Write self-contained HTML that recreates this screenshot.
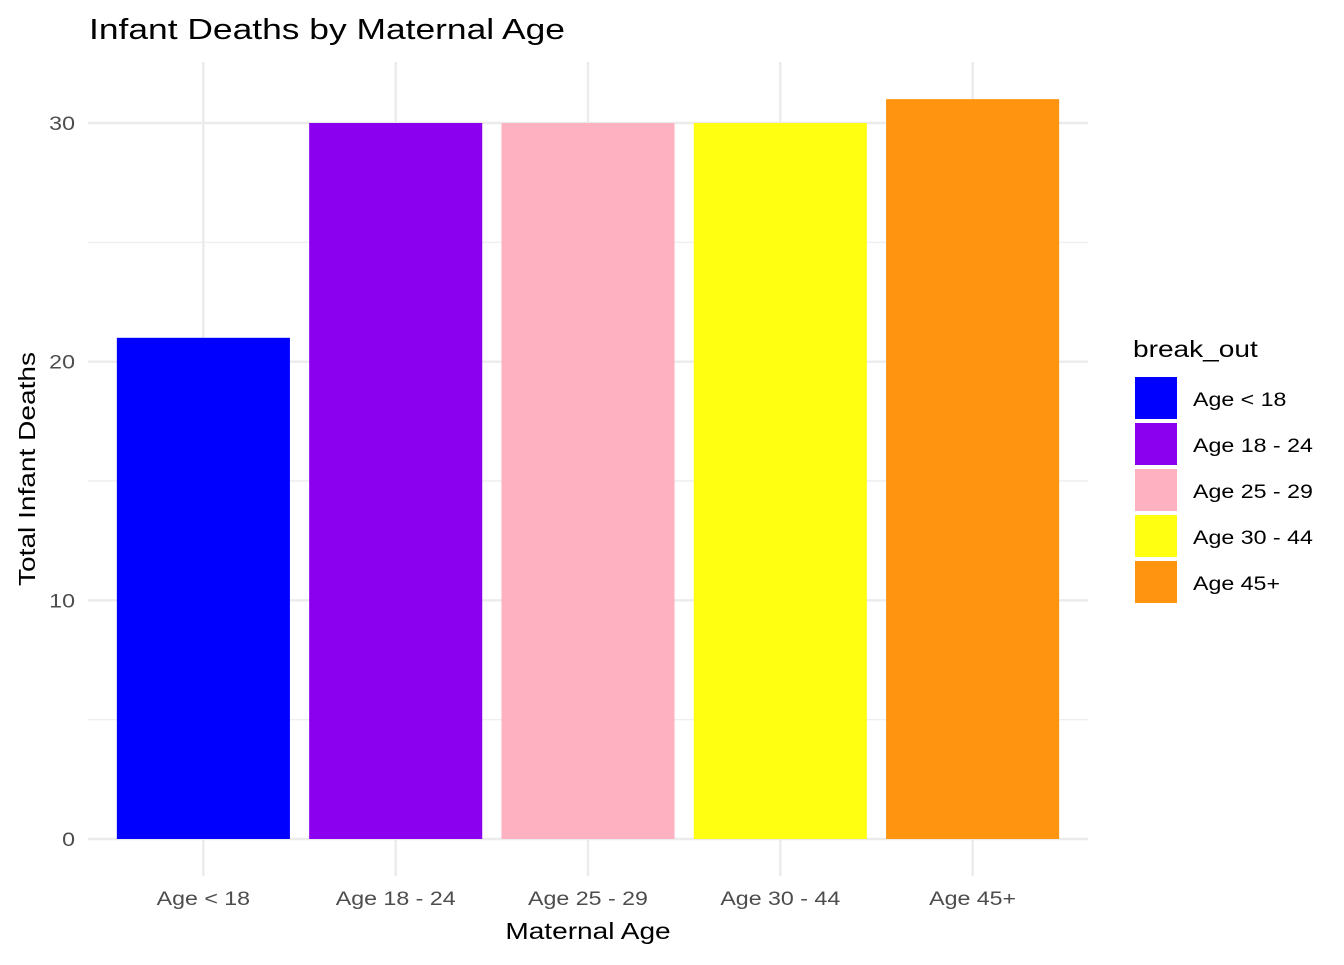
<!DOCTYPE html>
<html><head><meta charset="utf-8"><style>
body{margin:0;background:#fff;font-family:"Liberation Sans",Arial,sans-serif}
svg text{font-family:"Liberation Sans",Arial,sans-serif}
</style></head><body>
<svg id="chart" width="1344" height="960" xmlns="http://www.w3.org/2000/svg">
<text x="89" y="39" font-size="29" fill="#000">Infant Deaths by Maternal Age</text>
<g id="grid"></g><g id="bars"></g><g id="axes"></g><g id="legend"></g>
<text x="588" y="939" font-size="23" text-anchor="middle" fill="#000">Maternal Age</text>
<text transform="translate(35,469) rotate(-90)" font-size="23" text-anchor="middle" fill="#000">Total Infant Deaths</text>
</svg>
<script>
const categories=["Age < 18","Age 18 - 24","Age 25 - 29","Age 30 - 44","Age 45+"];
const values=[21,30,30,30,31];
const colors=["#0000FF","#8B00EE","#FDB1C1","#FFFF11","#FF9410"];
const yTicks=[0,10,20,30];
const yMinor=[5,15,25];
const NS="http://www.w3.org/2000/svg";
const px0=88,px1=1088,py0=876,py1=62;
function xs(i){return px0+(i+1-0.4)*(px1-px0)/5.2;}
const bw=0.9*(px1-px0)/5.2;
function ys(v){return 839-v*(839-123)/30;}
function mk(tag,attrs,parent){const e=document.createElementNS(NS,tag);for(const k in attrs)e.setAttribute(k,attrs[k]);document.getElementById(parent).appendChild(e);return e;}
yMinor.forEach(v=>{const l=mk("line",{x1:px0,x2:px1,y1:ys(v),y2:ys(v),stroke:"#ebebeb","stroke-width":1.2},"grid");

});
yTicks.forEach(v=>{const l=mk("line",{x1:px0,x2:px1,y1:ys(v),y2:ys(v),stroke:"#ebebeb","stroke-width":2.4},"grid");


const t=mk("text",{x:75,y:ys(v)+7,"font-size":19,"text-anchor":"end",fill:"#4d4d4d"},"axes");t.textContent=v;

});
categories.forEach((c,i)=>{const l=mk("line",{x1:xs(i),x2:xs(i),y1:py1,y2:py0,stroke:"#ebebeb","stroke-width":2.4},"grid");


const r=mk("rect",{x:xs(i)-bw/2,y:ys(values[i]),width:bw,height:ys(0)-ys(values[i]),fill:colors[i]},"bars");


const t=mk("text",{x:xs(i),y:905,"font-size":19,"text-anchor":"middle",fill:"#4d4d4d"},"axes");t.textContent=c;


const k=mk("rect",{x:1135,y:377+i*46,width:42,height:42,fill:colors[i]},"legend");


const lt=mk("text",{x:1193,y:406+i*46,"font-size":19,fill:"#000"},"legend");lt.textContent=c;

});
const lt=mk("text",{x:1133,y:357,"font-size":23,fill:"#000"},"legend");lt.textContent="break_out";


document.querySelectorAll("svg text").forEach(t=>{const w=t.getComputedTextLength();t.setAttribute("textLength",(w*1.22).toFixed(1));t.setAttribute("lengthAdjust","spacingAndGlyphs");});
</script>
</body></html>
